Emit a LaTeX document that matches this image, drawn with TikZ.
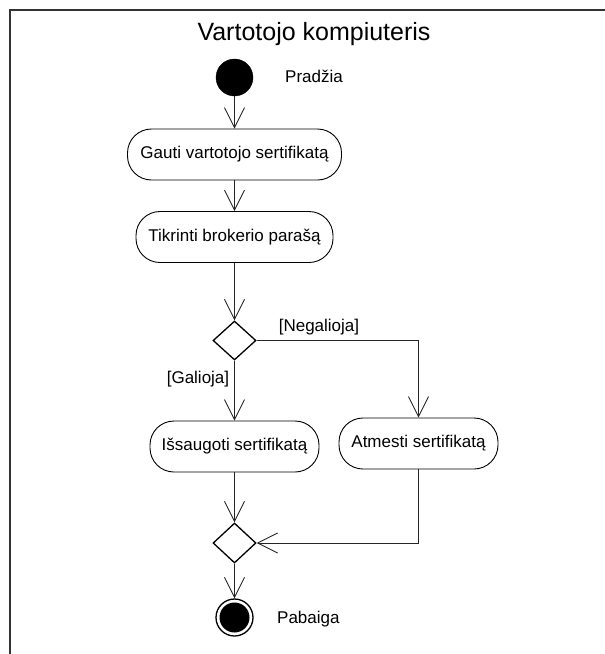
\documentclass[tikz,border=0pt]{standalone}
\usepackage{fontspec}
\setmainfont{Liberation Sans}
\usetikzlibrary{arrows.meta,shapes.geometric}

\begin{document}
\begin{tikzpicture}[x=1pt,y=-1pt,
  flow/.style={draw=black!85, line width=0.9pt,
    -{Straight Barb[length=20pt,width=20pt,line width=0.9pt]}},
  activity/.style={draw=black, line width=0.9pt, rectangle,
    rounded corners=24pt, minimum height=51pt, inner sep=0pt,
    font=\fontsize{17}{20}\selectfont},
  choice/.style={draw=black, line width=1.3pt, diamond,
    minimum width=43pt, minimum height=39pt, inner sep=0pt},
  lbl/.style={inner sep=0pt, font=\fontsize{17}{20}\selectfont},
  frameline/.style={draw=black!80, line width=2pt}]

\useasboundingbox (0,0) rectangle (605,654);

% swimlane frame (only its top and left edges fall inside the page)
\draw[frameline] (10,654) -- (10,10) -- (605,10);

\node[inner sep=0pt, anchor=base, font=\fontsize{25}{30}\selectfont]
  (title) at (314,40) {Vartotojo kompiuteris};

% initial node
\node[circle, fill=black, draw=black, minimum size=37pt, inner sep=0pt]
  (start) at (234.5,77.5) {};
\node[lbl, anchor=base west] (startlbl) at (285,82) {Pradžia};

% actions
\node[activity, minimum width=214pt] (get) at (234.5,154.5)
  {Gauti vartotojo sertifikatą};
\node[activity, minimum width=197pt] (check) at (234.5,237)
  {Tikrinti brokerio parašą};
\node[choice] (dec) at (234.5,340.5) {};
\node[activity, minimum width=169pt] (save) at (234.5,446.5)
  {Išsaugoti sertifikatą};
\node[activity, minimum width=159pt] (reject) at (418.5,443.5)
  {Atmesti sertifikatą};
\node[choice, minimum height=40pt] (merge) at (234.5,543) {};

% final node
\node[circle, draw=black, line width=1.3pt, minimum size=37pt, inner sep=0pt]
  (stop) at (234.5,617.5) {};
\node[circle, fill=black, minimum size=30pt, inner sep=0pt]
  (stopcore) at (stop.center) {};
\node[lbl, anchor=base west] (stoplbl) at (277,623) {Pabaiga};

% guards
\node[lbl, anchor=base] (ok) at (198,383) {[Galioja]};
\node[lbl, anchor=base] (bad) at (319,331) {[Negalioja]};

% control flow
\draw[flow] (start) -- (get);
\draw[flow] (get) -- (check);
\draw[flow] (check) -- (dec.north);
\draw[flow] (dec.south) -- (save);
\draw[flow] (dec.east) -| (reject.north);
\draw[flow] (save) -- (merge.north);
\draw[flow] (reject.south) |- (merge.east);
\draw[flow] (merge.south) -- (stop.north);

\end{tikzpicture}
\end{document}
